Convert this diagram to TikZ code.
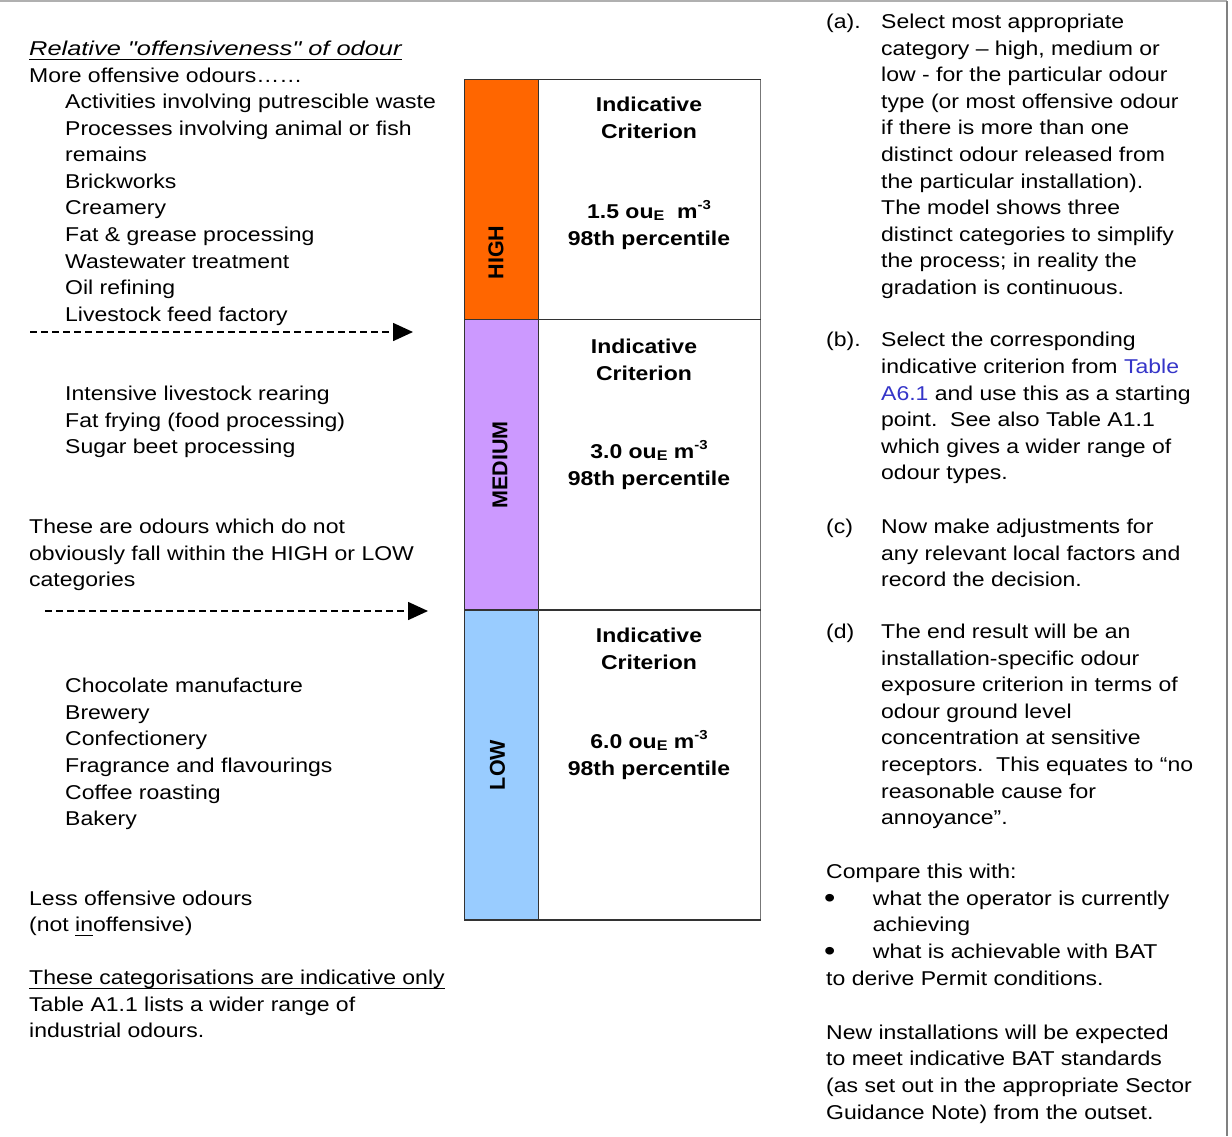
\documentclass[tikz,border=0pt]{standalone}
\usepackage{fontspec}
\setmainfont{Liberation Sans}[FakeStretch=1.15]
\newfontfamily\titlefont{Liberation Sans}[FakeStretch=1.27]
\newfontfamily\lblfont{Liberation Sans}
\usetikzlibrary{arrows.meta}
\definecolor{highc}{HTML}{FF6600}
\definecolor{medc}{HTML}{CC99FF}
\definecolor{lowc}{HTML}{99CCFF}
\definecolor{linkc}{HTML}{3535C8}
\definecolor{boxline}{HTML}{333333}
\definecolor{boxright}{HTML}{777777}
\definecolor{frametop}{HTML}{B0B0B0}
\definecolor{frameright}{HTML}{808080}
\newcommand\bodysize{\fontsize{20}{26.55}\selectfont}
\newcommand\rbodysize{\fontsize{20}{26.6}\selectfont}
\newsavebox\ulbox
\newcommand\myul[1]{\sbox\ulbox{#1}\rlap{\rule[-4.5pt]{\wd\ulbox}{1.4pt}}\usebox\ulbox}
\newcommand\subE{\raisebox{-2.5pt}{\fontsize{14}{14}\selectfont E}}
\newcommand\supm{\raisebox{9pt}{\fontsize{13}{13}\selectfont -3}}
\newcommand\bigbul{\raisebox{-2pt}{\fontsize{28}{28}\selectfont •}}
\begin{document}
\begin{tikzpicture}[x=1pt,y=-1pt,
  txt/.style={anchor=north west, inner sep=0pt, align=left, font=\bodysize},
  rtxt/.style={anchor=north west, inner sep=0pt, align=left, font=\rbodysize},
  line/.style={anchor=base west, inner sep=0pt, font=\bodysize},
  rline/.style={anchor=base west, inner sep=0pt, font=\rbodysize},
  crit/.style={anchor=north, inner sep=0pt, align=center, font=\bodysize\bfseries},
  lbl/.style={rotate=90, inner sep=0pt, font=\lblfont\fontsize{21.5}{21.5}\selectfont\bfseries},
  dashline/.style={line width=1.6pt, dash pattern=on 7pt off 4pt, -{Triangle[length=20pt,width=18pt]}}]
\useasboundingbox (0,0) rectangle (1232,1136);
% frame
\draw[frametop, line width=1.5pt] (0,1) -- (1227,1);
\draw[frameright, line width=1.5pt] (1227,1) -- (1227,1136);

% ---------- left column ----------
\node[anchor=base west, inner sep=0pt, font=\titlefont\fontsize{20}{26.55}\selectfont\itshape] (title) at (29,55.5) {\myul{Relative "offensiveness" of odour}};
\node[line] (more) at (29,82) {More offensive odours……};
\node[txt] (highlist) at (65,89.97) {\strut Activities involving putrescible waste\\Processes involving animal or fish\\remains\\Brickworks\\Creamery\\Fat \& grease processing\\Wastewater treatment\\Oil refining\\Livestock feed factory};
\coordinate (a1s) at (30,332);
\coordinate (a1e) at (413,332);
\draw[dashline] (a1s) -- (a1e);
\node[txt] (medlist) at (65,382.0) {\strut Intensive livestock rearing\\Fat frying (food processing)\\Sugar beet processing};
\node[txt] (medtxt) at (29,514.77) {\strut These are odours which do not\\obviously fall within the HIGH or LOW\\categories};
\coordinate (a2s) at (45,611);
\coordinate (a2e) at (428,611);
\draw[dashline] (a2s) -- (a2e);
\node[txt] (lowlist) at (65,674.07) {\strut Chocolate manufacture\\Brewery\\Confectionery\\Fragrance and flavourings\\Coffee roasting\\Bakery};
\node[txt] (less) at (29,886.47) {\strut Less offensive odours\\(not \myul{in}offensive)};
\node[txt] (cats) at (29,966.1) {\strut\myul{These categorisations are indicative only}\\Table A1.1 lists a wider range of\\industrial odours.};

% ---------- central box ----------
\fill[highc] (464.5,79.5) rectangle (538.3,319.5);
\fill[medc] (464.5,319.5) rectangle (538.3,610);
\fill[lowc] (464.5,610) rectangle (538.3,920);
\draw[boxright, line width=1.6pt] (760.5,79.5) -- (760.5,920);
\draw[boxline, line width=1.6pt] (760.5,79.5) -- (464.5,79.5) -- (464.5,920) -- (760.5,920);
\draw[boxline, line width=1.6pt] (538.3,79.5) -- (538.3,920);
\draw[boxline, line width=1.6pt] (464.5,319.5) -- (760.5,319.5);
\draw[boxline, line width=1.6pt] (464.5,610) -- (760.5,610);

\node[lbl] (lhigh) at (496,252.5) {HIGH};
\node[lbl] (lmed) at (500,465) {MEDIUM};
\node[lbl] (llow) at (497.5,765) {LOW};

\node[crit] (hi) at (649,93.1) {\strut Indicative\\Criterion};
\node[crit] (hv) at (649,199.7) {\strut 1.5 ou\subE\ \ m\supm\\98th percentile};
\node[crit] (mi) at (644,334.7) {\strut Indicative\\Criterion};
\node[crit] (mv) at (649,439.7) {\strut 3.0 ou\subE\ m\supm\\98th percentile};
\node[crit] (li) at (649,624.1) {\strut Indicative\\Criterion};
\node[crit] (lv) at (649,729.7) {\strut 6.0 ou\subE\ m\supm\\98th percentile};

% ---------- right column ----------
\node[rline] (la) at (826,28.3) {(a).};
\node[rtxt] (ta) at (881,9.68) {\strut Select most appropriate\\category – high, medium or\\low - for the particular odour\\type (or most offensive odour\\if there is more than one\\distinct odour released from\\the particular installation).\\The model shows three\\distinct categories to simplify\\the process; in reality the\\gradation is continuous.};
\node[rline] (lb) at (826,346.7) {(b).};
\node[rtxt] (tb) at (881,328.08) {\strut Select the corresponding\\indicative criterion from {\color{linkc}Table}\\{\color{linkc}A6.1} and use this as a starting\\point.\ \ See also Table A1.1\\which gives a wider range of\\odour types.};
\node[rline] (lc) at (826,533.3) {(c)};
\node[rtxt] (tc) at (881,514.68) {\strut Now make adjustments for\\any relevant local factors and\\record the decision.};
\node[rline] (ld) at (826,638.3) {(d)};
\node[rtxt] (td) at (881,619.68) {\strut The end result will be an\\installation-specific odour\\exposure criterion in terms of\\odour ground level\\concentration at sensitive\\receptors.\ \ This equates to “no\\reasonable cause for\\annoyance”.};
\node[rline] (cmp) at (826,878.3) {Compare this with:};
\node[rline] (bu1) at (824,905) {\bigbul};
\node[rtxt] (bt1) at (872.7,886.38) {\strut what the operator is currently\\achieving};
\node[rline] (bu2) at (824,958.4) {\bigbul};
\node[rline] (bt2) at (872.7,958.4) {what is achievable with BAT};
\node[rline] (derive) at (826,985) {to derive Permit conditions.};
\node[rtxt] (newi) at (826,1020.38) {\strut New installations will be expected\\to meet indicative BAT standards\\(as set out in the appropriate Sector\\Guidance Note) from the outset.};
\end{tikzpicture}
\end{document}
